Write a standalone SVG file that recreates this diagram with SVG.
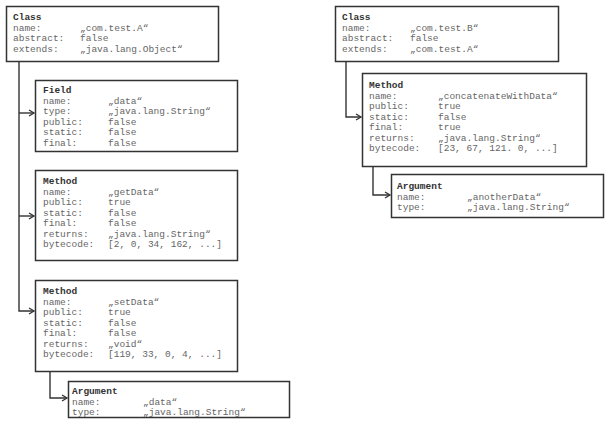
<svg xmlns="http://www.w3.org/2000/svg" width="609" height="427" viewBox="0 0 609 427">
<style>
.box{fill:#fff;stroke:#333;stroke-width:1.5}
text{font-family:"Liberation Mono","DejaVu Sans Mono",monospace;font-size:9.5px;fill:#666}
.t{fill:#333;font-weight:bold}
.c{fill:none;stroke:#333;stroke-width:1.4}
</style>
<defs>
<marker id="ar" markerWidth="8" markerHeight="8" refX="6" refY="4" orient="auto" markerUnits="userSpaceOnUse">
<polyline points="1,1 6,4 1,7" fill="none" stroke="#333" stroke-width="1.3"/>
</marker>
</defs>
<rect width="609" height="427" fill="#fff"/>
<g id="connectors">
<path class="c" d="M19 62 V311 H34" marker-end="url(#ar)"/>
<path class="c" d="M19 113 H34" marker-end="url(#ar)"/>
<path class="c" d="M19 216 H34" marker-end="url(#ar)"/>
<path class="c" d="M50 372 V398 H67" marker-end="url(#ar)"/>
<path class="c" d="M346 62 V117 H361" marker-end="url(#ar)"/>
<path class="c" d="M373 167 V195 H390" marker-end="url(#ar)"/>
</g>
<g id="classA">
<rect class="box" x="6.5" y="6.5" width="212" height="55"/>
<text class="t" x="13" y="20">Class</text>
<text x="13" y="30.5">name:</text><text x="80" y="30.5">„com.test.A“</text>
<text x="13" y="41">abstract:</text><text x="80" y="41">false</text>
<text x="13" y="51.5">extends:</text><text x="80" y="51.5">„java.lang.Object“</text>
</g>
<g id="fieldData">
<rect class="box" x="35.5" y="80.5" width="202" height="71"/>
<text class="t" x="43" y="93">Field</text>
<text x="43" y="103.5">name:</text><text x="108" y="103.5">„data“</text>
<text x="43" y="114">type:</text><text x="108" y="114">„java.lang.String“</text>
<text x="43" y="124.5">public:</text><text x="108" y="124.5">false</text>
<text x="43" y="135">static:</text><text x="108" y="135">false</text>
<text x="43" y="145.5">final:</text><text x="108" y="145.5">false</text>
</g>
<g id="methodGetData">
<rect class="box" x="35.5" y="170.5" width="202" height="90"/>
<text class="t" x="43" y="184">Method</text>
<text x="43" y="194.5">name:</text><text x="108" y="194.5">„getData“</text>
<text x="43" y="205">public:</text><text x="108" y="205">true</text>
<text x="43" y="215.5">static:</text><text x="108" y="215.5">false</text>
<text x="43" y="226">final:</text><text x="108" y="226">false</text>
<text x="43" y="236.5">returns:</text><text x="108" y="236.5">„java.lang.String“</text>
<text x="43" y="247">bytecode:</text><text x="108" y="247">[2, 0, 34, 162, ...]</text>
</g>
<g id="methodSetData">
<rect class="box" x="35.5" y="280.5" width="202" height="91"/>
<text class="t" x="43" y="294">Method</text>
<text x="43" y="304.5">name:</text><text x="108" y="304.5">„setData“</text>
<text x="43" y="315">public:</text><text x="108" y="315">true</text>
<text x="43" y="325.5">static:</text><text x="108" y="325.5">false</text>
<text x="43" y="336">final:</text><text x="108" y="336">false</text>
<text x="43" y="346.5">returns:</text><text x="108" y="346.5">„void“</text>
<text x="43" y="357">bytecode:</text><text x="108" y="357">[119, 33, 0, 4, ...]</text>
</g>
<g id="argData">
<rect class="box" x="68.5" y="381.5" width="221" height="36"/>
<text class="t" x="72" y="394">Argument</text>
<text x="72" y="404.5">name:</text><text x="143" y="404.5">„data“</text>
<text x="72" y="415">type:</text><text x="143" y="415">„java.lang.String“</text>
</g>
<g id="classB">
<rect class="box" x="335.5" y="6.5" width="223" height="55"/>
<text class="t" x="342" y="20">Class</text>
<text x="342" y="30.5">name:</text><text x="410" y="30.5">„com.test.B“</text>
<text x="342" y="41">abstract:</text><text x="410" y="41">false</text>
<text x="342" y="51.5">extends:</text><text x="410" y="51.5">„com.test.A“</text>
</g>
<g id="methodConcat">
<rect class="box" x="362.5" y="73.5" width="224" height="93"/>
<text class="t" x="369" y="88">Method</text>
<text x="369" y="98.5">name:</text><text x="438" y="98.5">„concatenateWithData“</text>
<text x="369" y="109">public:</text><text x="438" y="109">true</text>
<text x="369" y="119.5">static:</text><text x="438" y="119.5">false</text>
<text x="369" y="130">final:</text><text x="438" y="130">true</text>
<text x="369" y="140.5">returns:</text><text x="438" y="140.5">„java.lang.String“</text>
<text x="369" y="151">bytecode:</text><text x="438" y="151">[23, 67, 121. 0, ...]</text>
</g>
<g id="argAnotherData">
<rect class="box" x="391.5" y="174.5" width="212" height="43"/>
<text class="t" x="397" y="189">Argument</text>
<text x="397" y="199.5">name:</text><text x="467" y="199.5">„anotherData“</text>
<text x="397" y="210">type:</text><text x="467" y="210">„java.lang.String“</text>
</g>
</svg>
